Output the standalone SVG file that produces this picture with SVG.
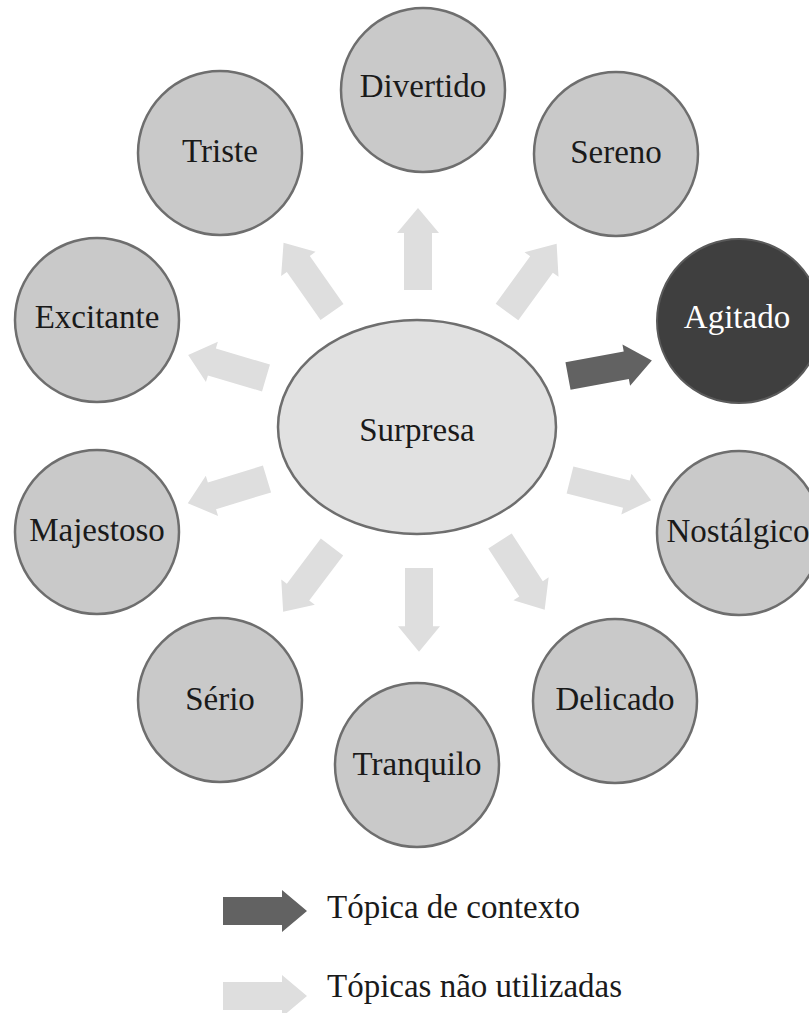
<svg xmlns="http://www.w3.org/2000/svg" width="809" height="1013" viewBox="0 0 809 1013">
<defs>
<style>
.n{fill:#c9c9c9;stroke:#6e6e6e;stroke-width:2.5}
.c{fill:#e1e1e1;stroke:#6e6e6e;stroke-width:2.5}
.a{fill:#3f3f3f;stroke:#5a5a5a;stroke-width:2}
.t{font-family:"Liberation Serif","Times New Roman",serif;font-size:33px;fill:#1a1a1a;text-anchor:middle}
.tw{fill:#ffffff}
.lg{font-family:"Liberation Serif","Times New Roman",serif;font-size:33px;fill:#1a1a1a}
.la{fill:#dedede}
.da{fill:#626262}
</style>
<path id="arr" d="M0,-14 L57,-14 L57,-21 L82,0 L57,21 L57,14 L0,14 Z"/>
</defs>
<rect width="809" height="1013" fill="#ffffff"/>
<g id="connectors">
<use href="#arr" class="la" transform="translate(418,290) rotate(-90)"/>
<use href="#arr" class="la" transform="translate(332,312) rotate(-125) scale(1.03,1)"/>
<use href="#arr" class="la" transform="translate(507,312) rotate(-54) scale(1.03,1)"/>
<use href="#arr" class="da" transform="translate(568,376) rotate(-10.5) scale(1.04,1)"/>
<use href="#arr" class="la" transform="translate(570,480) rotate(14) scale(1.02,1)"/>
<use href="#arr" class="la" transform="translate(266,378) rotate(-163.5) scale(0.99,1)"/>
<use href="#arr" class="la" transform="translate(267,479) rotate(163) scale(1.01,1)"/>
<use href="#arr" class="la" transform="translate(332,547) rotate(127) scale(0.99,1)"/>
<use href="#arr" class="la" transform="translate(419,568) rotate(90) scale(1.02,1)"/>
<use href="#arr" class="la" transform="translate(500,541) rotate(57) scale(1.0,1)"/>
</g>
<g id="node-surpresa"><ellipse class="c" cx="417" cy="427" rx="139" ry="107"/><text class="t" x="417" y="441">Surpresa</text></g>
<g id="node-divertido"><circle class="n" cx="423" cy="90" r="82"/><text class="t" x="423" y="97">Divertido</text></g>
<g id="node-triste"><circle class="n" cx="220" cy="153" r="82"/><text class="t" x="220" y="162">Triste</text></g>
<g id="node-sereno"><circle class="n" cx="616" cy="154" r="82"/><text class="t" x="616" y="163">Sereno</text></g>
<g id="node-excitante"><circle class="n" cx="97" cy="320" r="82"/><text class="t" x="97" y="328">Excitante</text></g>
<g id="node-agitado"><circle class="a" cx="739" cy="321" r="82"/><text class="t tw" x="737" y="328">Agitado</text></g>
<g id="node-majestoso"><circle class="n" cx="97" cy="532" r="82"/><text class="t" x="97" y="541">Majestoso</text></g>
<g id="node-nostalgico"><circle class="n" cx="739" cy="533" r="82"/><text class="t" x="738" y="542">Nostálgico</text></g>
<g id="node-serio"><circle class="n" cx="220" cy="700" r="82"/><text class="t" x="220" y="710">Sério</text></g>
<g id="node-tranquilo"><circle class="n" cx="417" cy="765" r="82"/><text class="t" x="417" y="775">Tranquilo</text></g>
<g id="node-delicado"><circle class="n" cx="615" cy="701" r="82"/><text class="t" x="615" y="710">Delicado</text></g>
<g id="legend">
<path class="da" d="M223,897 L282,897 L282,890 L307,911 L282,932 L282,925 L223,925 Z"/>
<text class="lg" x="327" y="918">Tópica de contexto</text>
<path class="la" d="M223,982 L282,982 L282,975 L307,996 L282,1017 L282,1010 L223,1010 Z"/>
<text class="lg" x="327" y="997">Tópicas não utilizadas</text>
</g>
</svg>
